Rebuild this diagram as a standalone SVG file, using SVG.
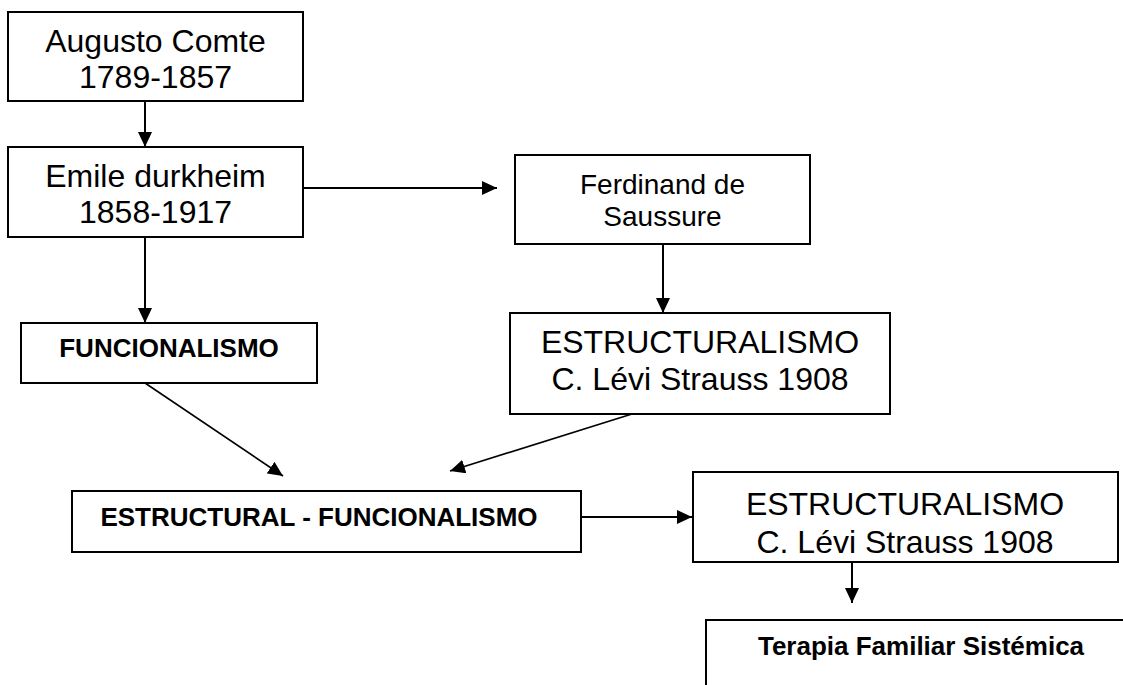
<svg xmlns="http://www.w3.org/2000/svg" width="1123" height="685" viewBox="0 0 1123 685">
  <style>
    .box { fill: #ffffff; stroke: #000000; stroke-width: 2; }
    .t { font-family: "Liberation Sans", Arial, sans-serif; font-size: 32px; fill: #000000; text-anchor: middle; }
    .s { font-size: 28px; }
    .b { font-weight: bold; font-size: 26px; }
    .c { fill: none; stroke: #000000; stroke-width: 2; }
    .d { fill: none; stroke: #000000; stroke-width: 1.6; }
  </style>
  <defs>
    <marker id="arrow" markerUnits="userSpaceOnUse" markerWidth="16" markerHeight="14" refX="15" refY="7" orient="auto">
      <path d="M0,0 L15,7 L0,14 Z" fill="#000000"/>
    </marker>
  </defs>
  <rect width="1123" height="685" fill="#ffffff"/>

  <g id="connectors">
    <line class="c" x1="145" y1="101" x2="145" y2="147" marker-end="url(#arrow)"/>
    <line class="c" x1="303" y1="188" x2="497" y2="188" marker-end="url(#arrow)"/>
    <line class="c" x1="145" y1="237" x2="145" y2="323" marker-end="url(#arrow)"/>
    <line class="c" x1="663" y1="244" x2="663" y2="313" marker-end="url(#arrow)"/>
    <line class="d" x1="145" y1="383" x2="283" y2="476" marker-end="url(#arrow)"/>
    <line class="d" x1="632" y1="414" x2="450" y2="471" marker-end="url(#arrow)"/>
    <line class="c" x1="581" y1="517" x2="692" y2="517" marker-end="url(#arrow)"/>
    <line class="c" x1="852" y1="562" x2="852" y2="603" marker-end="url(#arrow)"/>
  </g>

  <g id="node-comte">
    <rect class="box" x="8" y="12" width="295" height="89"/>
    <text class="t" x="155.5" y="52">Augusto Comte</text>
    <text class="t" x="155.5" y="88">1789-1857</text>
  </g>

  <g id="node-durkheim">
    <rect class="box" x="8" y="147" width="295" height="90"/>
    <text class="t" x="155.5" y="187">Emile durkheim</text>
    <text class="t" x="155.5" y="223">1858-1917</text>
  </g>

  <g id="node-saussure">
    <rect class="box" x="515" y="155" width="295" height="89"/>
    <text class="t s" x="662.5" y="194">Ferdinand de</text>
    <text class="t s" x="662.5" y="226">Saussure</text>
  </g>

  <g id="node-funcionalismo">
    <rect class="box" x="21" y="323" width="296" height="60"/>
    <text class="t b" x="169" y="357">FUNCIONALISMO</text>
  </g>

  <g id="node-estructuralismo-1">
    <rect class="box" x="510" y="313" width="380" height="101"/>
    <text class="t" x="700" y="353">ESTRUCTURALISMO</text>
    <text class="t" x="700" y="390">C. Lévi Strauss 1908</text>
  </g>

  <g id="node-estructural-funcionalismo">
    <rect class="box" x="72" y="491" width="509" height="61"/>
    <text class="t b" x="319" y="526">ESTRUCTURAL - FUNCIONALISMO</text>
  </g>

  <g id="node-estructuralismo-2">
    <rect class="box" x="693" y="472" width="425" height="90"/>
    <text class="t" x="905" y="515">ESTRUCTURALISMO</text>
    <text class="t" x="905" y="553">C. Lévi Strauss 1908</text>
  </g>

  <g id="node-terapia">
    <rect class="box" x="706" y="620" width="430" height="80"/>
    <text class="t b" x="921" y="655">Terapia Familiar Sistémica</text>
  </g>
</svg>
